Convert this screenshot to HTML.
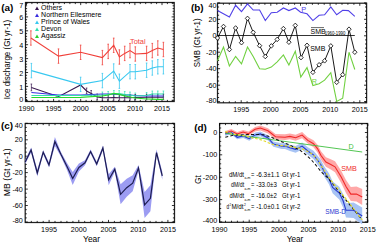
<!DOCTYPE html>
<html><head><meta charset="utf-8"><style>
html,body{margin:0;padding:0;background:#fff;overflow:hidden;}
svg{display:block;font-family:"Liberation Sans", sans-serif;}
</style></head><body>
<svg width="377" height="246" viewBox="0 0 377 246">
<rect width="377" height="246" fill="#fff"/>
<text x="1.2" y="10.6" font-size="9.9" text-anchor="start" fill="#000" font-weight="bold" >(a)</text>
<rect x="25.5" y="2.5" width="148.7" height="99.0" fill="none" stroke="#222" stroke-width="1.25"/>
<path d="M26.5,101.5v-2.6M26.5,2.5v2.6M53.6,101.5v-2.6M53.6,2.5v2.6M80.7,101.5v-2.6M80.7,2.5v2.6M107.8,101.5v-2.6M107.8,2.5v2.6M134.9,101.5v-2.6M134.9,2.5v2.6M162.0,101.5v-2.6M162.0,2.5v2.6M31.9,101.5v-1.6M31.9,2.5v1.6M37.3,101.5v-1.6M37.3,2.5v1.6M42.8,101.5v-1.6M42.8,2.5v1.6M48.2,101.5v-1.6M48.2,2.5v1.6M59.0,101.5v-1.6M59.0,2.5v1.6M64.4,101.5v-1.6M64.4,2.5v1.6M69.9,101.5v-1.6M69.9,2.5v1.6M75.3,101.5v-1.6M75.3,2.5v1.6M86.1,101.5v-1.6M86.1,2.5v1.6M91.5,101.5v-1.6M91.5,2.5v1.6M97.0,101.5v-1.6M97.0,2.5v1.6M102.4,101.5v-1.6M102.4,2.5v1.6M113.2,101.5v-1.6M113.2,2.5v1.6M118.6,101.5v-1.6M118.6,2.5v1.6M124.1,101.5v-1.6M124.1,2.5v1.6M129.5,101.5v-1.6M129.5,2.5v1.6M140.3,101.5v-1.6M140.3,2.5v1.6M145.7,101.5v-1.6M145.7,2.5v1.6M151.2,101.5v-1.6M151.2,2.5v1.6M156.6,101.5v-1.6M156.6,2.5v1.6M167.4,101.5v-1.6M167.4,2.5v1.6M172.8,101.5v-1.6M172.8,2.5v1.6M25.5,100.3h2.6M174.2,100.3h-2.6M25.5,86.4h2.6M174.2,86.4h-2.6M25.5,72.5h2.6M174.2,72.5h-2.6M25.5,58.6h2.6M174.2,58.6h-2.6M25.5,44.7h2.6M174.2,44.7h-2.6M25.5,30.8h2.6M174.2,30.8h-2.6M25.5,16.9h2.6M174.2,16.9h-2.6M25.5,3.0h2.6M174.2,3.0h-2.6M25.5,97.5h1.6M174.2,97.5h-1.6M25.5,94.7h1.6M174.2,94.7h-1.6M25.5,92.0h1.6M174.2,92.0h-1.6M25.5,89.2h1.6M174.2,89.2h-1.6M25.5,83.6h1.6M174.2,83.6h-1.6M25.5,80.8h1.6M174.2,80.8h-1.6M25.5,78.1h1.6M174.2,78.1h-1.6M25.5,75.3h1.6M174.2,75.3h-1.6M25.5,69.7h1.6M174.2,69.7h-1.6M25.5,66.9h1.6M174.2,66.9h-1.6M25.5,64.2h1.6M174.2,64.2h-1.6M25.5,61.4h1.6M174.2,61.4h-1.6M25.5,55.8h1.6M174.2,55.8h-1.6M25.5,53.0h1.6M174.2,53.0h-1.6M25.5,50.3h1.6M174.2,50.3h-1.6M25.5,47.5h1.6M174.2,47.5h-1.6M25.5,41.9h1.6M174.2,41.9h-1.6M25.5,39.1h1.6M174.2,39.1h-1.6M25.5,36.4h1.6M174.2,36.4h-1.6M25.5,33.6h1.6M174.2,33.6h-1.6M25.5,28.0h1.6M174.2,28.0h-1.6M25.5,25.2h1.6M174.2,25.2h-1.6M25.5,22.5h1.6M174.2,22.5h-1.6M25.5,19.7h1.6M174.2,19.7h-1.6M25.5,14.1h1.6M174.2,14.1h-1.6M25.5,11.3h1.6M174.2,11.3h-1.6M25.5,8.6h1.6M174.2,8.6h-1.6M25.5,5.8h1.6M174.2,5.8h-1.6" stroke="#000" stroke-width="0.8" fill="none"/>
<text x="23.3" y="102.39999999999999" font-size="7.2" text-anchor="end" fill="#000" font-weight="normal" >0</text>
<text x="23.3" y="89.49999999999999" font-size="7.2" text-anchor="end" fill="#000" font-weight="normal" >1</text>
<text x="23.3" y="75.6" font-size="7.2" text-anchor="end" fill="#000" font-weight="normal" >2</text>
<text x="23.3" y="61.699999999999996" font-size="7.2" text-anchor="end" fill="#000" font-weight="normal" >3</text>
<text x="23.3" y="47.8" font-size="7.2" text-anchor="end" fill="#000" font-weight="normal" >4</text>
<text x="23.3" y="33.9" font-size="7.2" text-anchor="end" fill="#000" font-weight="normal" >5</text>
<text x="23.3" y="19.999999999999993" font-size="7.2" text-anchor="end" fill="#000" font-weight="normal" >6</text>
<text x="23.3" y="7.6" font-size="7.2" text-anchor="end" fill="#000" font-weight="normal" >7</text>
<text x="26.5" y="111.2" font-size="7.2" text-anchor="middle" fill="#000" font-weight="normal" >1990</text>
<text x="53.6" y="111.2" font-size="7.2" text-anchor="middle" fill="#000" font-weight="normal" >1995</text>
<text x="80.7" y="111.2" font-size="7.2" text-anchor="middle" fill="#000" font-weight="normal" >2000</text>
<text x="107.8" y="111.2" font-size="7.2" text-anchor="middle" fill="#000" font-weight="normal" >2005</text>
<text x="134.9" y="111.2" font-size="7.2" text-anchor="middle" fill="#000" font-weight="normal" >2010</text>
<text x="162.0" y="111.2" font-size="7.2" text-anchor="middle" fill="#000" font-weight="normal" >2015</text>
<text transform="translate(9.8,59.5) rotate(-90)" font-size="8.5" text-anchor="middle" textLength="79.5" lengthAdjust="spacingAndGlyphs">Ice discharge (Gt yr-1)</text>
<path d="M35.0,10.1L37.0,6.6L39.0,10.1Z" fill="#3a1850"/>
<text x="41.1" y="10.0" font-size="7.0" text-anchor="start" fill="#000" font-weight="normal" >Others</text>
<path d="M35.0,17.1L37.0,13.5L39.0,17.1Z" fill="#3a2ee0"/>
<text x="41.1" y="16.95" font-size="7.0" text-anchor="start" fill="#000" font-weight="normal" >Northern Ellesmere</text>
<path d="M35.0,24.0L37.0,20.5L39.0,24.0Z" fill="#38c8f0"/>
<text x="41.1" y="23.9" font-size="7.0" text-anchor="start" fill="#000" font-weight="normal" >Prince of Wales</text>
<path d="M35.0,31.0L37.0,27.5L39.0,31.0Z" fill="#30e0b0"/>
<text x="41.1" y="30.85" font-size="7.0" text-anchor="start" fill="#000" font-weight="normal" >Devon</text>
<path d="M35.0,37.9L37.0,34.4L39.0,37.9Z" fill="#30d030"/>
<text x="41.1" y="37.8" font-size="7.0" text-anchor="start" fill="#000" font-weight="normal" >Agassiz</text>
<path d="M102.4,92.0V98.0M101.6,92.0h1.6M101.6,98.0h1.6M108.2,91.5V97.5M107.4,91.5h1.6M107.4,97.5h1.6M113.9,90.5V96.5M113.1,90.5h1.6M113.1,96.5h1.6M119.2,90.6V96.6M118.4,90.6h1.6M118.4,96.6h1.6M124.7,91.5V97.5M123.9,91.5h1.6M123.9,97.5h1.6M130.0,92.0V98.0M129.2,92.0h1.6M129.2,98.0h1.6M135.3,93.0V99.0M134.5,93.0h1.6M134.5,99.0h1.6M146.6,92.5V98.5M145.8,92.5h1.6M145.8,98.5h1.6M152.3,91.0V97.0M151.5,91.0h1.6M151.5,97.0h1.6M157.8,91.0V97.0M157.0,91.0h1.6M157.0,97.0h1.6M163.4,91.0V97.0M162.6,91.0h1.6M162.6,97.0h1.6" stroke="#30e0b0" stroke-width="0.7" fill="none"/>
<path d="M31.4,84.0V90.8M30.6,84.0h1.6M30.6,90.8h1.6M86.6,88.0V93.5M85.8,88.0h1.6M85.8,93.5h1.6M91.2,90.5V96.0M90.4,90.5h1.6M90.4,96.0h1.6M97.2,94.0V99.5M96.4,94.0h1.6M96.4,99.5h1.6M102.4,94.7V100.2M101.6,94.7h1.6M101.6,100.2h1.6M108.2,94.7V100.2M107.4,94.7h1.6M107.4,100.2h1.6M113.7,94.6V100.1M112.9,94.6h1.6M112.9,100.1h1.6M119.4,94.7V100.2M118.6,94.7h1.6M118.6,100.2h1.6M124.7,94.7V100.2M123.9,94.7h1.6M123.9,100.2h1.6M130.0,94.7V100.2M129.2,94.7h1.6M129.2,100.2h1.6M135.3,94.5V100.0M134.5,94.5h1.6M134.5,100.0h1.6M146.6,94.3V99.8M145.8,94.3h1.6M145.8,99.8h1.6M152.3,94.2V99.7M151.5,94.2h1.6M151.5,99.7h1.6M157.8,94.2V99.7M157.0,94.2h1.6M157.0,99.7h1.6M163.4,94.2V99.7M162.6,94.2h1.6M162.6,99.7h1.6" stroke="#3a1850" stroke-width="0.7" fill="none"/>
<polyline points="31.4,87.4 58.5,96.7 80.6,85.0 86.6,91.0 91.2,93.5 97.2,97.0 102.4,97.7 108.2,97.7 113.7,97.6 119.4,97.7 124.7,97.7 130.0,97.7 135.3,97.5 146.6,97.3 152.3,97.2 157.8,97.2 163.4,97.2" fill="none" stroke="#3a1850" stroke-width="1.1" stroke-linejoin="miter" />
<polyline points="31.4,92.5 58.5,95.0 80.6,95.0 102.4,94.0 108.2,94.0 113.9,94.2 119.2,94.5 124.7,95.0 130.0,95.0 135.3,95.5 146.6,96.0 152.3,96.0 157.8,96.0 163.4,96.0" fill="none" stroke="#3a2ee0" stroke-width="1.1" stroke-linejoin="miter" />
<polyline points="31.4,95.5 58.5,95.5 80.6,95.5 102.4,95.0 108.2,94.5 113.9,93.5 119.2,93.6 124.7,94.5 130.0,95.0 135.3,96.0 146.6,95.5 152.3,94.0 157.8,94.0 163.4,94.0" fill="none" stroke="#30e0b0" stroke-width="1.1" stroke-linejoin="miter" />
<polyline points="31.4,97.5 58.5,97.5 80.6,97.3 102.4,96.0 108.2,95.0 113.9,93.4 119.2,94.4 124.7,95.8 130.0,97.0 135.3,98.0 146.6,99.0 152.3,99.2 157.8,99.3 163.4,99.3" fill="none" stroke="#28d828" stroke-width="1.2" stroke-linejoin="miter" />
<circle cx="58.5" cy="96.0" r="1.2" fill="none" stroke="#30e0b0" stroke-width="0.7"/>
<path d="M31.4,63.4V77.8M30.6,63.4h1.6M30.6,77.8h1.6M80.6,77.2V91.6M79.8,77.2h1.6M79.8,91.6h1.6M102.4,73.4V87.8M101.6,73.4h1.6M101.6,87.8h1.6M113.7,63.8V78.2M112.9,63.8h1.6M112.9,78.2h1.6M119.4,74.0V88.4M118.6,74.0h1.6M118.6,88.4h1.6M130.0,64.5V78.9M129.2,64.5h1.6M129.2,78.9h1.6M135.3,64.5V78.9M134.5,64.5h1.6M134.5,78.9h1.6M146.6,63.0V77.4M145.8,63.0h1.6M145.8,77.4h1.6M152.3,60.8V75.2M151.5,60.8h1.6M151.5,75.2h1.6M157.8,59.6V74.0M157.0,59.6h1.6M157.0,74.0h1.6M163.4,59.6V74.0M162.6,59.6h1.6M162.6,74.0h1.6" stroke="#38c8f0" stroke-width="0.8" fill="none"/>
<polyline points="31.4,70.6 80.6,84.4 102.4,80.6 113.7,71.0 119.4,81.2 130.0,71.7 135.3,71.7 146.6,70.2 152.3,68.0 157.8,66.8 163.4,66.8" fill="none" stroke="#38c8f0" stroke-width="1.1" stroke-linejoin="miter" />
<path d="M30.9,30.8V45.2M30.1,30.8h1.6M30.1,45.2h1.6M58.5,48.9V63.3M57.7,48.9h1.6M57.7,63.3h1.6M80.6,45.1V59.5M79.8,45.1h1.6M79.8,59.5h1.6M102.4,50.4V64.8M101.6,50.4h1.6M101.6,64.8h1.6M108.2,44.2V58.6M107.4,44.2h1.6M107.4,58.6h1.6M113.7,38.1V52.5M112.9,38.1h1.6M112.9,52.5h1.6M119.4,49.8V64.2M118.6,49.8h1.6M118.6,64.2h1.6M124.7,46.2V60.6M123.9,46.2h1.6M123.9,60.6h1.6M130.0,43.4V57.8M129.2,43.4h1.6M129.2,57.8h1.6M135.3,46.8V61.2M134.5,46.8h1.6M134.5,61.2h1.6M146.6,46.2V60.6M145.8,46.2h1.6M145.8,60.6h1.6M152.3,43.4V57.8M151.5,43.4h1.6M151.5,57.8h1.6M157.8,40.8V55.2M157.0,40.8h1.6M157.0,55.2h1.6M163.4,42.3V56.7M162.6,42.3h1.6M162.6,56.7h1.6" stroke="#f0403a" stroke-width="0.8" fill="none"/>
<polyline points="30.9,38.0 58.5,56.1 80.6,52.3 102.4,57.6 108.2,51.4 113.7,45.3 119.4,57.0 124.7,53.4 130.0,50.6 135.3,54.0 146.6,53.4 152.3,50.6 157.8,48.0 163.4,49.5" fill="none" stroke="#f0403a" stroke-width="1.1" stroke-linejoin="miter" />
<text x="130" y="43.6" font-size="7.4" text-anchor="start" fill="#f0403a" font-weight="normal" >Total</text>
<text x="190.9" y="10.8" font-size="9.9" text-anchor="start" fill="#000" font-weight="bold" >(b)</text>
<rect x="217.5" y="3.2" width="149.1" height="99.6" fill="none" stroke="#222" stroke-width="1.25"/>
<path d="M241.2,102.8v-2.6M241.2,3.2v2.6M270.8,102.8v-2.6M270.8,3.2v2.6M300.5,102.8v-2.6M300.5,3.2v2.6M330.1,102.8v-2.6M330.1,3.2v2.6M359.8,102.8v-2.6M359.8,3.2v2.6M223.4,102.8v-1.6M223.4,3.2v1.6M229.3,102.8v-1.6M229.3,3.2v1.6M235.3,102.8v-1.6M235.3,3.2v1.6M247.1,102.8v-1.6M247.1,3.2v1.6M253.1,102.8v-1.6M253.1,3.2v1.6M259.0,102.8v-1.6M259.0,3.2v1.6M264.9,102.8v-1.6M264.9,3.2v1.6M276.8,102.8v-1.6M276.8,3.2v1.6M282.7,102.8v-1.6M282.7,3.2v1.6M288.6,102.8v-1.6M288.6,3.2v1.6M294.6,102.8v-1.6M294.6,3.2v1.6M306.4,102.8v-1.6M306.4,3.2v1.6M312.4,102.8v-1.6M312.4,3.2v1.6M318.3,102.8v-1.6M318.3,3.2v1.6M324.2,102.8v-1.6M324.2,3.2v1.6M336.1,102.8v-1.6M336.1,3.2v1.6M342.0,102.8v-1.6M342.0,3.2v1.6M347.9,102.8v-1.6M347.9,3.2v1.6M353.9,102.8v-1.6M353.9,3.2v1.6M365.7,102.8v-1.6M365.7,3.2v1.6M217.5,101.6h2.6M366.6,101.6h-2.6M217.5,85.2h2.6M366.6,85.2h-2.6M217.5,68.7h2.6M366.6,68.7h-2.6M217.5,52.2h2.6M366.6,52.2h-2.6M217.5,35.8h2.6M366.6,35.8h-2.6M217.5,19.3h2.6M366.6,19.3h-2.6M217.5,2.9h2.6M366.6,2.9h-2.6M217.5,97.5h1.6M366.6,97.5h-1.6M217.5,93.4h1.6M366.6,93.4h-1.6M217.5,89.3h1.6M366.6,89.3h-1.6M217.5,81.0h1.6M366.6,81.0h-1.6M217.5,76.9h1.6M366.6,76.9h-1.6M217.5,72.8h1.6M366.6,72.8h-1.6M217.5,64.6h1.6M366.6,64.6h-1.6M217.5,60.5h1.6M366.6,60.5h-1.6M217.5,56.4h1.6M366.6,56.4h-1.6M217.5,48.1h1.6M366.6,48.1h-1.6M217.5,44.0h1.6M366.6,44.0h-1.6M217.5,39.9h1.6M366.6,39.9h-1.6M217.5,31.7h1.6M366.6,31.7h-1.6M217.5,27.6h1.6M366.6,27.6h-1.6M217.5,23.5h1.6M366.6,23.5h-1.6M217.5,15.2h1.6M366.6,15.2h-1.6M217.5,11.1h1.6M366.6,11.1h-1.6M217.5,7.0h1.6M366.6,7.0h-1.6" stroke="#000" stroke-width="0.8" fill="none"/>
<text x="216.4" y="103.19999999999999" font-size="7.2" text-anchor="end" fill="#000" font-weight="normal" >-80</text>
<text x="216.4" y="87.75" font-size="7.2" text-anchor="end" fill="#000" font-weight="normal" >-60</text>
<text x="216.4" y="71.29999999999998" font-size="7.2" text-anchor="end" fill="#000" font-weight="normal" >-40</text>
<text x="216.4" y="54.85" font-size="7.2" text-anchor="end" fill="#000" font-weight="normal" >-20</text>
<text x="216.4" y="38.4" font-size="7.2" text-anchor="end" fill="#000" font-weight="normal" >0</text>
<text x="216.4" y="21.95" font-size="7.2" text-anchor="end" fill="#000" font-weight="normal" >20</text>
<text x="216.4" y="7.800000000000001" font-size="7.2" text-anchor="end" fill="#000" font-weight="normal" >40</text>
<text x="241.2" y="111.7" font-size="7.2" text-anchor="middle" fill="#000" font-weight="normal" >1995</text>
<text x="270.84999999999997" y="111.7" font-size="7.2" text-anchor="middle" fill="#000" font-weight="normal" >2000</text>
<text x="300.5" y="111.7" font-size="7.2" text-anchor="middle" fill="#000" font-weight="normal" >2005</text>
<text x="330.15" y="111.7" font-size="7.2" text-anchor="middle" fill="#000" font-weight="normal" >2010</text>
<text x="359.79999999999995" y="111.7" font-size="7.2" text-anchor="middle" fill="#000" font-weight="normal" >2015</text>
<text transform="translate(200.2,42.8) rotate(-90)" font-size="8.5" text-anchor="middle" textLength="48.7" lengthAdjust="spacingAndGlyphs">SMB (Gt yr-1)</text>
<line x1="217.5" y1="35.5" x2="354.8" y2="35.5" stroke="#000" stroke-width="0.8"/>
<polyline points="217.5,10.6 223.4,13.8 229.4,17.0 235.6,5.3 241.5,11.7 247.5,3.8 253.2,10.0 259.6,10.0 265.3,20.6 271.3,12.7 277.2,12.3 283.4,8.0 288.9,10.6 295.3,8.0 300.6,12.3 307.0,13.8 312.9,20.6 319.1,15.3 324.6,14.8 330.8,6.8 336.7,14.8 342.7,10.2 348.4,10.6 354.8,16.3" fill="none" stroke="#5040e8" stroke-width="1.1" stroke-linejoin="miter" />
<polyline points="217.5,60.7 223.5,47.0 229.4,66.0 235.6,56.5 241.5,63.9 247.5,47.0 253.2,56.5 259.6,68.8 265.3,69.2 271.3,67.1 277.2,61.8 283.4,55.0 288.9,65.0 295.3,51.2 300.8,77.0 307.0,67.6 312.9,85.5 319.1,83.8 324.6,80.2 330.8,72.7 336.7,101.4 342.7,98.2 349.0,52.2 354.8,69.5" fill="none" stroke="#70d040" stroke-width="1.1" stroke-linejoin="miter" />
<polyline points="217.5,38.0 223.5,26.5 229.4,49.5 235.6,28.0 241.5,42.7 247.5,18.4 253.2,32.3 259.6,45.7 265.3,56.5 271.3,45.9 277.2,39.4 283.4,28.6 288.9,42.2 295.3,25.4 301.0,57.6 307.0,45.3 312.9,72.3 319.1,64.8 324.6,60.8 330.8,45.9 336.7,82.3 342.7,74.7 349.0,29.2 354.8,52.2" fill="none" stroke="#000" stroke-width="0.9" stroke-linejoin="miter" />
<path d="M217.5,35.7L219.7,38.0L217.5,40.3L215.3,38.0Z" fill="#fff" stroke="#000" stroke-width="0.8"/>
<path d="M223.5,24.2L225.7,26.5L223.5,28.8L221.3,26.5Z" fill="#fff" stroke="#000" stroke-width="0.8"/>
<path d="M229.4,47.2L231.6,49.5L229.4,51.8L227.2,49.5Z" fill="#fff" stroke="#000" stroke-width="0.8"/>
<path d="M235.6,25.7L237.8,28.0L235.6,30.3L233.4,28.0Z" fill="#fff" stroke="#000" stroke-width="0.8"/>
<path d="M241.5,40.4L243.7,42.7L241.5,45.0L239.3,42.7Z" fill="#fff" stroke="#000" stroke-width="0.8"/>
<path d="M247.5,16.1L249.7,18.4L247.5,20.7L245.3,18.4Z" fill="#fff" stroke="#000" stroke-width="0.8"/>
<path d="M253.2,30.0L255.4,32.3L253.2,34.6L251.0,32.3Z" fill="#fff" stroke="#000" stroke-width="0.8"/>
<path d="M259.6,43.4L261.8,45.7L259.6,48.0L257.4,45.7Z" fill="#fff" stroke="#000" stroke-width="0.8"/>
<path d="M265.3,54.2L267.5,56.5L265.3,58.8L263.1,56.5Z" fill="#fff" stroke="#000" stroke-width="0.8"/>
<path d="M271.3,43.6L273.5,45.9L271.3,48.2L269.1,45.9Z" fill="#fff" stroke="#000" stroke-width="0.8"/>
<path d="M277.2,37.1L279.4,39.4L277.2,41.7L275.0,39.4Z" fill="#fff" stroke="#000" stroke-width="0.8"/>
<path d="M283.4,26.3L285.6,28.6L283.4,30.9L281.2,28.6Z" fill="#fff" stroke="#000" stroke-width="0.8"/>
<path d="M288.9,39.9L291.1,42.2L288.9,44.5L286.7,42.2Z" fill="#fff" stroke="#000" stroke-width="0.8"/>
<path d="M295.3,23.1L297.5,25.4L295.3,27.7L293.1,25.4Z" fill="#fff" stroke="#000" stroke-width="0.8"/>
<path d="M301.0,55.3L303.2,57.6L301.0,59.9L298.8,57.6Z" fill="#fff" stroke="#000" stroke-width="0.8"/>
<path d="M307.0,43.0L309.2,45.3L307.0,47.6L304.8,45.3Z" fill="#fff" stroke="#000" stroke-width="0.8"/>
<path d="M312.9,70.0L315.1,72.3L312.9,74.6L310.7,72.3Z" fill="#fff" stroke="#000" stroke-width="0.8"/>
<path d="M319.1,62.5L321.3,64.8L319.1,67.1L316.9,64.8Z" fill="#fff" stroke="#000" stroke-width="0.8"/>
<path d="M324.6,58.5L326.8,60.8L324.6,63.1L322.4,60.8Z" fill="#fff" stroke="#000" stroke-width="0.8"/>
<path d="M330.8,43.6L333.0,45.9L330.8,48.2L328.6,45.9Z" fill="#fff" stroke="#000" stroke-width="0.8"/>
<path d="M336.7,80.0L338.9,82.3L336.7,84.6L334.5,82.3Z" fill="#fff" stroke="#000" stroke-width="0.8"/>
<path d="M342.7,72.4L344.9,74.7L342.7,77.0L340.5,74.7Z" fill="#fff" stroke="#000" stroke-width="0.8"/>
<path d="M349.0,26.9L351.2,29.2L349.0,31.5L346.8,29.2Z" fill="#fff" stroke="#000" stroke-width="0.8"/>
<path d="M354.8,49.9L357.0,52.2L354.8,54.5L352.6,52.2Z" fill="#fff" stroke="#000" stroke-width="0.8"/>
<text x="303.8" y="12.0" font-size="7.4" text-anchor="middle" fill="#5040e8" font-weight="normal" >P</text>
<text x="310.5" y="34.3" font-size="7.0">SMB</text>
<line x1="311" y1="27.6" x2="324" y2="27.6" stroke="#000" stroke-width="0.6"/>
<text x="324.8" y="35.4" font-size="4.6" textLength="20.5" lengthAdjust="spacingAndGlyphs">1960-1990</text>
<text x="310.2" y="51.2" font-size="7.0">SMB</text>
<text x="314.4" y="83.8" font-size="7.2" text-anchor="middle" fill="#70d040" font-weight="normal" >R</text>
<text x="0.9" y="129.0" font-size="9.9" text-anchor="start" fill="#000" font-weight="bold" >(c)</text>
<rect x="25.2" y="123.5" width="149.3" height="99.0" fill="none" stroke="#222" stroke-width="1.25"/>
<path d="M49.1,222.5v-2.6M49.1,123.5v2.6M78.8,222.5v-2.6M78.8,123.5v2.6M108.5,222.5v-2.6M108.5,123.5v2.6M138.2,222.5v-2.6M138.2,123.5v2.6M167.9,222.5v-2.6M167.9,123.5v2.6M31.3,222.5v-1.6M31.3,123.5v1.6M37.2,222.5v-1.6M37.2,123.5v1.6M43.2,222.5v-1.6M43.2,123.5v1.6M55.0,222.5v-1.6M55.0,123.5v1.6M61.0,222.5v-1.6M61.0,123.5v1.6M66.9,222.5v-1.6M66.9,123.5v1.6M72.9,222.5v-1.6M72.9,123.5v1.6M84.7,222.5v-1.6M84.7,123.5v1.6M90.7,222.5v-1.6M90.7,123.5v1.6M96.6,222.5v-1.6M96.6,123.5v1.6M102.6,222.5v-1.6M102.6,123.5v1.6M114.4,222.5v-1.6M114.4,123.5v1.6M120.4,222.5v-1.6M120.4,123.5v1.6M126.3,222.5v-1.6M126.3,123.5v1.6M132.3,222.5v-1.6M132.3,123.5v1.6M144.1,222.5v-1.6M144.1,123.5v1.6M150.1,222.5v-1.6M150.1,123.5v1.6M156.0,222.5v-1.6M156.0,123.5v1.6M162.0,222.5v-1.6M162.0,123.5v1.6M173.8,222.5v-1.6M173.8,123.5v1.6M25.2,222.0h2.6M174.5,222.0h-2.6M25.2,205.5h2.6M174.5,205.5h-2.6M25.2,189.1h2.6M174.5,189.1h-2.6M25.2,172.6h2.6M174.5,172.6h-2.6M25.2,156.2h2.6M174.5,156.2h-2.6M25.2,139.8h2.6M174.5,139.8h-2.6M25.2,123.3h2.6M174.5,123.3h-2.6M25.2,217.9h1.6M174.5,217.9h-1.6M25.2,213.8h1.6M174.5,213.8h-1.6M25.2,209.7h1.6M174.5,209.7h-1.6M25.2,201.4h1.6M174.5,201.4h-1.6M25.2,197.3h1.6M174.5,197.3h-1.6M25.2,193.2h1.6M174.5,193.2h-1.6M25.2,185.0h1.6M174.5,185.0h-1.6M25.2,180.9h1.6M174.5,180.9h-1.6M25.2,176.8h1.6M174.5,176.8h-1.6M25.2,168.5h1.6M174.5,168.5h-1.6M25.2,164.4h1.6M174.5,164.4h-1.6M25.2,160.3h1.6M174.5,160.3h-1.6M25.2,152.1h1.6M174.5,152.1h-1.6M25.2,148.0h1.6M174.5,148.0h-1.6M25.2,143.9h1.6M174.5,143.9h-1.6M25.2,135.6h1.6M174.5,135.6h-1.6M25.2,131.5h1.6M174.5,131.5h-1.6M25.2,127.4h1.6M174.5,127.4h-1.6" stroke="#000" stroke-width="0.8" fill="none"/>
<text x="22.8" y="222.9" font-size="7.2" text-anchor="end" fill="#000" font-weight="normal" >-80</text>
<text x="22.8" y="208.14999999999998" font-size="7.2" text-anchor="end" fill="#000" font-weight="normal" >-60</text>
<text x="22.8" y="191.7" font-size="7.2" text-anchor="end" fill="#000" font-weight="normal" >-40</text>
<text x="22.8" y="175.24999999999997" font-size="7.2" text-anchor="end" fill="#000" font-weight="normal" >-20</text>
<text x="22.8" y="158.79999999999998" font-size="7.2" text-anchor="end" fill="#000" font-weight="normal" >0</text>
<text x="22.8" y="142.35" font-size="7.2" text-anchor="end" fill="#000" font-weight="normal" >20</text>
<text x="22.8" y="128.1" font-size="7.2" text-anchor="end" fill="#000" font-weight="normal" >40</text>
<text x="49.1" y="232.2" font-size="7.2" text-anchor="middle" fill="#000" font-weight="normal" >1995</text>
<text x="78.80000000000001" y="232.2" font-size="7.2" text-anchor="middle" fill="#000" font-weight="normal" >2000</text>
<text x="108.5" y="232.2" font-size="7.2" text-anchor="middle" fill="#000" font-weight="normal" >2005</text>
<text x="138.20000000000002" y="232.2" font-size="7.2" text-anchor="middle" fill="#000" font-weight="normal" >2010</text>
<text x="167.9" y="232.2" font-size="7.2" text-anchor="middle" fill="#000" font-weight="normal" >2015</text>
<text x="91.6" y="242.4" font-size="8.6" text-anchor="middle" textLength="17" lengthAdjust="spacingAndGlyphs">Year</text>
<text transform="translate(9.8,172.3) rotate(-90)" font-size="8.5" text-anchor="middle" textLength="47.9" lengthAdjust="spacingAndGlyphs">MB (Gt yr-1)</text>
<path d="M25.2,160.1 L31.1,147.5 L37.3,169.5 L43.2,150.2 L49.0,162.4 L54.9,137.0 L60.9,152.1 L67.0,162.9 L72.7,172.0 L78.9,163.5 L85.0,160.3 L90.6,149.5 L96.7,161.8 L102.9,145.5 L108.7,174.3 L114.8,166.7 L120.6,184.3 L126.7,178.7 L132.7,175.2 L138.5,165.0 L144.6,191.9 L150.4,185.3 L156.5,149.6 L162.3,171.8 L162.3,179.8 L156.5,155.6 L150.4,211.3 L144.6,217.9 L138.5,171.0 L132.7,191.2 L126.7,196.7 L120.6,204.3 L114.8,171.7 L108.7,185.3 L102.9,150.5 L96.7,166.2 L90.6,153.5 L85.0,165.3 L78.9,171.5 L72.7,185.0 L67.0,169.9 L60.9,156.5 L54.9,146.0 L49.0,167.4 L43.2,154.2 L37.3,176.5 L31.1,152.5 L25.2,164.1Z" fill="#9c9cf2" stroke="none"/>
<polyline points="25.2,162.1 31.1,150.0 37.3,173.0 43.2,152.2 49.0,164.9 54.9,141.5 60.9,154.3 67.0,166.4 72.7,178.5 78.9,167.5 85.0,162.8 90.6,151.5 96.7,164.0 102.9,148.0 108.7,179.8 114.8,169.2 120.6,194.3 126.7,187.7 132.7,183.2 138.5,168.0 144.6,204.9 150.4,198.3 156.5,152.6 162.3,175.8" fill="none" stroke="#1c1c50" stroke-width="1.2" stroke-linejoin="miter" />
<text x="194.3" y="130.6" font-size="9.9" text-anchor="start" fill="#000" font-weight="bold" >(d)</text>
<rect x="219.6" y="123.5" width="147.9" height="98.8" fill="none" stroke="#222" stroke-width="1.25"/>
<path d="M219.6,222.3v-2.6M219.6,123.5v2.6M249.2,222.3v-2.6M249.2,123.5v2.6M278.9,222.3v-2.6M278.9,123.5v2.6M308.5,222.3v-2.6M308.5,123.5v2.6M338.2,222.3v-2.6M338.2,123.5v2.6M367.9,222.3v-2.6M367.9,123.5v2.6M225.5,222.3v-1.6M225.5,123.5v1.6M231.5,222.3v-1.6M231.5,123.5v1.6M237.4,222.3v-1.6M237.4,123.5v1.6M243.3,222.3v-1.6M243.3,123.5v1.6M255.2,222.3v-1.6M255.2,123.5v1.6M261.1,222.3v-1.6M261.1,123.5v1.6M267.0,222.3v-1.6M267.0,123.5v1.6M273.0,222.3v-1.6M273.0,123.5v1.6M284.8,222.3v-1.6M284.8,123.5v1.6M290.8,222.3v-1.6M290.8,123.5v1.6M296.7,222.3v-1.6M296.7,123.5v1.6M302.6,222.3v-1.6M302.6,123.5v1.6M314.5,222.3v-1.6M314.5,123.5v1.6M320.4,222.3v-1.6M320.4,123.5v1.6M326.3,222.3v-1.6M326.3,123.5v1.6M332.3,222.3v-1.6M332.3,123.5v1.6M344.1,222.3v-1.6M344.1,123.5v1.6M350.1,222.3v-1.6M350.1,123.5v1.6M356.0,222.3v-1.6M356.0,123.5v1.6M361.9,222.3v-1.6M361.9,123.5v1.6M219.6,221.9h2.6M367.5,221.9h-2.6M219.6,199.6h2.6M367.5,199.6h-2.6M219.6,177.2h2.6M367.5,177.2h-2.6M219.6,154.8h2.6M367.5,154.8h-2.6M219.6,132.5h2.6M367.5,132.5h-2.6M219.6,217.4h1.6M367.5,217.4h-1.6M219.6,213.0h1.6M367.5,213.0h-1.6M219.6,208.5h1.6M367.5,208.5h-1.6M219.6,204.0h1.6M367.5,204.0h-1.6M219.6,195.1h1.6M367.5,195.1h-1.6M219.6,190.6h1.6M367.5,190.6h-1.6M219.6,186.1h1.6M367.5,186.1h-1.6M219.6,181.7h1.6M367.5,181.7h-1.6M219.6,172.7h1.6M367.5,172.7h-1.6M219.6,168.3h1.6M367.5,168.3h-1.6M219.6,163.8h1.6M367.5,163.8h-1.6M219.6,159.3h1.6M367.5,159.3h-1.6M219.6,150.4h1.6M367.5,150.4h-1.6M219.6,145.9h1.6M367.5,145.9h-1.6M219.6,141.4h1.6M367.5,141.4h-1.6M219.6,137.0h1.6M367.5,137.0h-1.6M219.6,128.0h1.6M367.5,128.0h-1.6M219.6,123.6h1.6M367.5,123.6h-1.6" stroke="#000" stroke-width="0.8" fill="none"/>
<text x="217.2" y="222.70000000000002" font-size="7.2" text-anchor="end" fill="#000" font-weight="normal" >-400</text>
<text x="217.2" y="202.15" font-size="7.2" text-anchor="end" fill="#000" font-weight="normal" >-300</text>
<text x="217.2" y="179.79999999999998" font-size="7.2" text-anchor="end" fill="#000" font-weight="normal" >-200</text>
<text x="217.2" y="157.45" font-size="7.2" text-anchor="end" fill="#000" font-weight="normal" >-100</text>
<text x="217.2" y="135.1" font-size="7.2" text-anchor="end" fill="#000" font-weight="normal" >0</text>
<text x="219.6" y="231.6" font-size="7.2" text-anchor="middle" fill="#000" font-weight="normal" >1990</text>
<text x="249.25" y="231.6" font-size="7.2" text-anchor="middle" fill="#000" font-weight="normal" >1995</text>
<text x="278.9" y="231.6" font-size="7.2" text-anchor="middle" fill="#000" font-weight="normal" >2000</text>
<text x="308.54999999999995" y="231.6" font-size="7.2" text-anchor="middle" fill="#000" font-weight="normal" >2005</text>
<text x="338.2" y="231.6" font-size="7.2" text-anchor="middle" fill="#000" font-weight="normal" >2010</text>
<text x="367.85" y="231.6" font-size="7.2" text-anchor="middle" fill="#000" font-weight="normal" >2015</text>
<text x="295" y="242.2" font-size="8.6" text-anchor="middle" textLength="16.7" lengthAdjust="spacingAndGlyphs">Year</text>
<text transform="translate(200.7,179.6) rotate(-90)" font-size="8.4" text-anchor="middle">Gt</text>
<path d="M225.3,131.1 L231.3,129.1 L237.2,131.9 L243.2,129.9 L248.5,131.5 L255.1,127.0 L260.4,125.6 L268.0,128.2 L275.5,134.0 L285.0,134.3 L289.9,133.5 L295.6,134.7 L302.1,132.0 L307.8,137.2 L313.5,140.2 L317.5,144.7 L321.0,151.3 L325.9,157.3 L330.8,159.3 L335.0,161.3 L341.2,170.8 L346.0,180.0 L350.8,187.1 L356.5,186.6 L362.2,189.0 L362.2,205.0 L356.5,201.6 L350.8,201.1 L346.0,193.0 L341.2,183.0 L335.0,172.3 L330.8,169.5 L325.9,166.7 L321.0,159.7 L317.5,152.5 L313.5,147.2 L307.8,143.6 L302.1,138.2 L295.6,140.7 L289.9,139.3 L285.0,140.1 L275.5,139.4 L268.0,133.4 L260.4,130.4 L255.1,131.6 L248.5,135.9 L243.2,134.1 L237.2,135.9 L231.3,132.9 L225.3,134.7Z" fill="#ffa8a8" stroke="none"/>
<path d="M225.3,132.1 L231.3,130.7 L237.2,135.3 L243.2,133.8 L249.2,136.4 L255.1,132.6 L260.4,131.5 L268.0,135.3 L273.4,141.4 L281.8,143.3 L285.0,143.1 L289.9,144.7 L295.6,146.1 L302.1,142.6 L307.8,147.3 L313.5,150.7 L320.5,159.3 L324.3,166.6 L329.1,173.5 L332.6,181.6 L339.3,186.7 L343.1,194.0 L346.0,203.2 L353.6,202.6 L362.2,207.5 L362.2,224.5 L353.6,218.0 L346.0,217.4 L343.1,207.6 L339.3,199.5 L332.6,193.2 L329.1,184.5 L324.3,176.8 L320.5,168.7 L313.5,158.9 L307.8,154.7 L302.1,149.6 L295.6,152.7 L289.9,150.9 L285.0,149.1 L281.8,149.1 L273.4,146.8 L268.0,140.5 L260.4,136.3 L255.1,137.2 L249.2,140.8 L243.2,138.0 L237.2,139.3 L231.3,134.5 L225.3,135.7Z" fill="#a8c4f4" stroke="none"/>
<polyline points="225.3,132.9 231.3,131.0 237.2,133.9 243.2,132.0 248.5,133.7 255.1,129.3 260.4,128.0 268.0,130.8 275.5,136.7 285.0,137.2 289.9,136.4 295.6,137.7 302.1,135.1 307.8,140.4 313.5,143.7 317.5,148.6 321.0,155.5 325.9,162.0 330.8,164.4 335.0,166.8 341.2,176.9 346.0,186.5 350.8,194.1 356.5,194.1 362.2,197.0" fill="none" stroke="#f02828" stroke-width="1.1" stroke-linejoin="miter" />
<polyline points="225.3,133.9 231.3,132.6 237.2,137.3 243.2,135.9 249.2,138.6 255.1,134.9 260.4,133.9 268.0,137.9 273.4,144.1 281.8,146.2 285.0,146.1 289.9,147.8 295.6,149.4 302.1,146.1 307.8,151.0 313.5,154.8 320.5,164.0 324.3,171.7 329.1,179.0 332.6,187.4 339.3,193.1 343.1,200.8 346.0,210.3 353.6,210.3 362.2,216.0" fill="none" stroke="#2838d0" stroke-width="1.1" stroke-linejoin="miter" />
<polyline points="225.3,133.3 362.2,152.0" fill="none" stroke="#40c040" stroke-width="0.9" stroke-linejoin="miter" />
<polyline points="225.3,137.3 233.0,135.3 247.0,134.6 256.0,134.4 264.0,134.8 272.0,137.5 280.0,141.0 290.0,145.2 300.0,150.3 305.0,154.0 311.5,160.0 317.0,166.5 321.8,172.5 327.9,177.9 344.1,197.9 361.3,218.9" fill="none" stroke="#111" stroke-width="1.05" stroke-linejoin="miter" stroke-dasharray="3,2.2"/>
<polyline points="225.3,131.3 235.0,134.6 242.5,135.3 252.5,138.0 259.0,139.2 265.0,141.2 271.2,144.1 278.0,145.5 285.0,145.6 292.5,147.0 301.3,148.6 307.8,151.5 313.5,154.8 317.5,160.0 324.3,170.5 330.7,180.0 344.1,196.4 362.2,219.9" fill="none" stroke="#e4dc2c" stroke-width="1.2" stroke-linejoin="miter" stroke-dasharray="2.6,1.8"/>
<text x="351.1" y="149.4" font-size="7.2" text-anchor="middle" fill="#40c040" font-weight="normal" >D</text>
<text x="349" y="171.4" font-size="7.2" text-anchor="middle" fill="#f02828" font-weight="normal" >SMB</text>
<text x="325.2" y="214.2" font-size="7.2" fill="#2838d0" textLength="20.8" lengthAdjust="spacingAndGlyphs">SMB-D</text>
<text x="229.0" y="176.5" font-size="6.8" textLength="15.0" lengthAdjust="spacingAndGlyphs" >dM/dt</text>
<text x="231.0" y="187.4" font-size="6.8" textLength="13.1" lengthAdjust="spacingAndGlyphs" >dM/dt</text>
<text x="229.5" y="198.1" font-size="6.8" textLength="14.6" lengthAdjust="spacingAndGlyphs" >dM/dt</text>
<text x="226.6" y="208.8" font-size="6.8" textLength="2.6" lengthAdjust="spacingAndGlyphs" >d</text>
<text x="231.4" y="208.8" font-size="6.8" textLength="12.2" lengthAdjust="spacingAndGlyphs" >M/dt</text>
<text x="229.6" y="205.8" font-size="3.6" textLength="1.6" lengthAdjust="spacingAndGlyphs" >2</text>
<text x="244.0" y="205.60000000000002" font-size="3.6" textLength="1.8" lengthAdjust="spacingAndGlyphs" >2</text>
<text x="244.6" y="179.1" font-size="3.8" textLength="5.8" lengthAdjust="spacingAndGlyphs" >a-m</text>
<text x="251.0" y="176.5" font-size="6.8" textLength="3.3" lengthAdjust="spacingAndGlyphs" >=</text>
<text x="282.0" y="176.5" font-size="6.8" textLength="18.2" lengthAdjust="spacingAndGlyphs" >Gt yr-1</text>
<text x="244.6" y="190.0" font-size="3.8" textLength="5.8" lengthAdjust="spacingAndGlyphs" >a-m</text>
<text x="251.0" y="187.4" font-size="6.8" textLength="3.3" lengthAdjust="spacingAndGlyphs" >=</text>
<text x="282.0" y="187.4" font-size="6.8" textLength="18.2" lengthAdjust="spacingAndGlyphs" >Gt yr-1</text>
<text x="244.6" y="200.7" font-size="3.8" textLength="5.8" lengthAdjust="spacingAndGlyphs" >a-m</text>
<text x="251.0" y="198.1" font-size="6.8" textLength="3.3" lengthAdjust="spacingAndGlyphs" >=</text>
<text x="282.0" y="198.1" font-size="6.8" textLength="18.2" lengthAdjust="spacingAndGlyphs" >Gt yr-1</text>
<text x="244.6" y="211.4" font-size="3.8" textLength="5.8" lengthAdjust="spacingAndGlyphs" >a-m</text>
<text x="251.0" y="208.8" font-size="6.8" textLength="3.3" lengthAdjust="spacingAndGlyphs" >=</text>
<text x="282.0" y="208.8" font-size="6.8" textLength="18.2" lengthAdjust="spacingAndGlyphs" >Gt yr-2</text>
<text x="256.2" y="176.5" font-size="6.8" textLength="23.3" lengthAdjust="spacingAndGlyphs" >-6.3±1.1</text>
<text x="256.2" y="187.4" font-size="6.8" textLength="20.6" lengthAdjust="spacingAndGlyphs" >-33.0±3</text>
<text x="256.2" y="198.1" font-size="6.8" textLength="20.6" lengthAdjust="spacingAndGlyphs" >-16.0±2</text>
<text x="256.2" y="208.8" font-size="6.8" textLength="23.3" lengthAdjust="spacingAndGlyphs" >-1.0±0.1</text>
</svg></body></html>
